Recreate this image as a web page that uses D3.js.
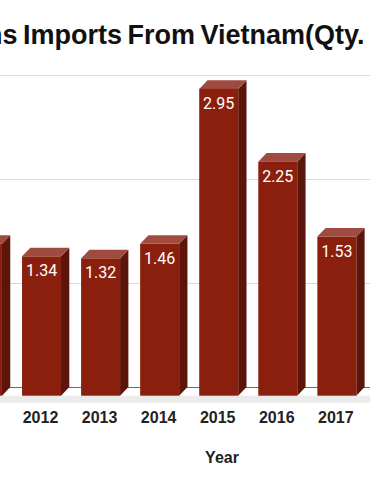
<!DOCTYPE html>
<html><head><meta charset="utf-8">
<script src="https://cdn.jsdelivr.net/npm/d3@7"></script>
<style>html,body{margin:0;padding:0;background:#fff;overflow:hidden}</style>
</head><body>
<svg id="c" width="370" height="490"></svg>
<script>
const years = ["2011","2012","2013","2014","2015","2016","2017"];
const values = [1.46, 1.34, 1.32, 1.46, 2.95, 2.25, 1.53];
const gridTicks = [1, 2, 3];
const titleText = "Tin Cans Imports From Vietnam(Qty. in Tonnes)";
const xTitle = "Year";

const svg = d3.select("#c");
const W = 370, H = 490;
const dx = 8.3, dy = 8.7; // 3D depth
const x = d3.scaleBand().domain(years).range([-57.1, 376.4]).padding(0.34);
const y = d3.scaleLinear().domain([0, 3]).range([387, 75]);

// floor
svg.append("rect").attr("x", 0).attr("y", y(0) + dy).attr("width", W).attr("height", 7).attr("fill", "#ebebeb");
// gridlines on back plane
svg.selectAll("line.grid").data(gridTicks).enter().append("line")
  .attr("x1", 0).attr("x2", W).attr("y1", d => y(d) + 0.5).attr("y2", d => y(d) + 0.5)
  .attr("stroke", "#d9d9d9").attr("stroke-width", 1);
svg.append("line").attr("x1", 0).attr("x2", W).attr("y1", y(0) + 0.5).attr("y2", y(0) + 0.5)
  .attr("stroke", "#6b6b6b").attr("stroke-width", 1);

const g = svg.selectAll("g.bar").data(years.map((d, i) => ({year: d, v: values[i]}))).enter().append("g");
g.each(function(d) {
  const s = d3.select(this);
  const x0 = x(d.year), x1 = x0 + x.bandwidth();
  const yt = y(d.v) + dy, yb = y(0) + dy;
  s.append("path").attr("d", `M${x1},${yt}L${x1+dx},${yt-dy}L${x1+dx},${yb-dy}L${x1},${yb}Z`).attr("fill", "#5b150b");
  s.append("path").attr("d", `M${x0},${yt}L${x0+dx},${yt-dy}L${x1+dx},${yt-dy}L${x1},${yt}Z`).attr("fill", "#a04b3f");
  s.append("rect").attr("x", x0).attr("y", yt).attr("width", x.bandwidth()).attr("height", yb - yt).attr("fill", "#8a1f0e");
  s.append("text").attr("x", (x0 + x1) / 2).attr("y", yt + 20).attr("text-anchor", "middle")
    .attr("fill", "#fff").attr("font-family", "Roboto, sans-serif").attr("font-size", 16).text(d.v.toFixed(2));
  s.append("text").attr("x", (x0 + x1) / 2 - 1).attr("y", 423).attr("text-anchor", "middle")
    .attr("fill", "#222").attr("font-family", "Liberation Sans, Arial, sans-serif").attr("font-weight", "bold")
    .attr("font-size", 16).text(d.year);
});

svg.append("text").attr("x", 222).attr("y", 463).attr("text-anchor", "middle")
  .attr("fill", "#222").attr("font-family", "Liberation Sans, Arial, sans-serif").attr("font-weight", "bold")
  .attr("font-size", 16).text(xTitle);

const t = svg.append("text").attr("y", 44).attr("fill", "#111")
  .attr("font-family", "Liberation Sans, Arial, sans-serif").attr("font-weight", "bold")
  .attr("font-size", 27).attr("word-spacing", -2).text(titleText);
const idx = titleText.indexOf("Imports");
const off = t.node().getSubStringLength(0, idx);
t.attr("x", 23 - off);
</script>
</body></html>
